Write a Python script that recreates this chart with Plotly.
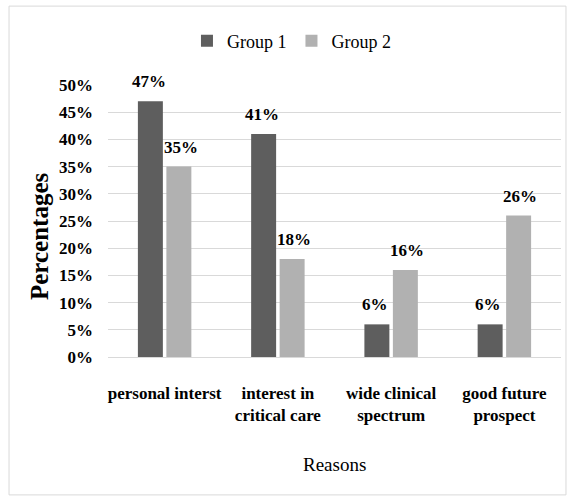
import plotly.graph_objects as go

# Survey data: reasons for choosing the specialty, by group
reasons = ["personal interst", "interest in<br>critical care",
           "wide clinical<br>spectrum", "good future<br>prospect"]
group1 = [47, 41, 6, 6]
group2 = [35, 18, 16, 26]
y_ticks = [0, 5, 10, 15, 20, 25, 30, 35, 40, 45, 50]
y_tick_text = [f"{v}%" for v in y_ticks]

SERIF = "Liberation Serif"
C1 = "#5e5e5e"
C2 = "#b1b1b1"
GRID = "#d9d9d9"

fig = go.Figure()
fig.add_trace(go.Bar(name="Group 1", x=reasons, y=group1, marker_color=C1,
                     marker_line_width=0))
fig.add_trace(go.Bar(name="Group 2", x=reasons, y=group2, marker_color=C2,
                     marker_line_width=0))

# Value labels above each bar, shifted onto the bar of its group
for vals, dx in ((group1, -16), (group2, 16)):
    for cat, v in zip(reasons, vals):
        fig.add_annotation(x=cat, y=v, xref="x", yref="y", text=f"<b>{v}%</b>",
                           showarrow=False, xshift=dx, yshift=8,
                           yanchor="bottom", xanchor="center",
                           font=dict(family=SERIF, size=17, color="#000"))

# Axis titles
fig.add_annotation(x=-0.150, y=0.445, xref="paper", yref="paper",
                   text="<b>Percentages</b>", textangle=-90, showarrow=False,
                   xanchor="center", yanchor="middle",
                   font=dict(family=SERIF, size=25, color="#000"))
fig.add_annotation(x=0.5, y=-0.397, xref="paper", yref="paper",
                   text="Reasons", showarrow=False,
                   xanchor="center", yanchor="middle",
                   font=dict(family=SERIF, size=19, color="#000"))

# Chart-area border
fig.add_shape(type="rect", xref="paper", yref="paper",
              x0=-0.2185, x1=1.011, y0=-0.507, y1=1.290,
              line=dict(color=GRID, width=1), fillcolor="rgba(0,0,0,0)")

fig.update_layout(
    width=573, height=501,
    margin=dict(l=108, r=12, t=85, b=144),
    paper_bgcolor="white", plot_bgcolor="white",
    barmode="group", bargap=0.497, bargroupgap=0.123,
    showlegend=True,
    legend=dict(orientation="h", x=0.405, xanchor="center",
                y=1.162, yanchor="middle",
                font=dict(family=SERIF, size=18, color="#000"),
                itemwidth=30, traceorder="normal"),
    font=dict(family=SERIF, color="#000"),
)
fig.update_xaxes(showgrid=False, showline=False, zeroline=False,
                 ticks="", ticklabelstandoff=24,
                 tickfont=dict(family=SERIF, size=17, color="#000"))
fig.update_xaxes(tickvals=reasons, ticktext=[f"<b>{r}</b>" for r in reasons])
fig.update_yaxes(range=[0, 50], tickvals=y_ticks,
                 ticktext=[f"<b>{t}</b>" for t in y_tick_text],
                 showgrid=True, gridcolor=GRID, gridwidth=1,
                 zeroline=True, zerolinecolor=GRID, zerolinewidth=1,
                 showline=False, ticks="", ticklabelstandoff=14,
                 tickfont=dict(family=SERIF, size=17, color="#000"))

fig.write_html("out.html")
